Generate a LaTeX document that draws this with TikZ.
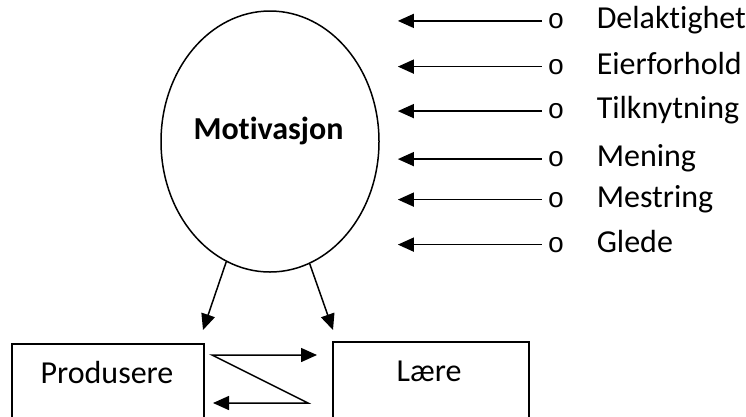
\documentclass[tikz,border=0pt]{standalone}
\usepackage{fontspec}
\setmainfont{Carlito}[Ligatures=NoCommon]
\newfontfamily\bulletfont{Liberation Mono}
\usetikzlibrary{shapes.geometric,arrows.meta}

\begin{document}
\begin{tikzpicture}[x=1pt,y=-1pt,line width=1.5pt,
  >={Triangle[length=16pt,width=14pt]},
  txt/.style={font=\fontsize{32}{38}\selectfont,inner sep=0pt},
  bul/.style={font=\bulletfont\fontsize{28}{30}\selectfont,inner sep=0pt},
  arr/.style={->},
  box/.style={draw,rectangle,inner sep=0pt}]
\useasboundingbox (0,0) rectangle (746,416);
\clip (0,0) rectangle (746,416);

% central ellipse and its label
\node[draw,ellipse,minimum width=218pt,minimum height=261pt,inner sep=0pt] (m) at (270,141.5) {};
\node[txt,font=\bfseries\fontsize{32}{38}\selectfont,anchor=base] (mt) at (268.5,139) {Motivasjon};

% list of factors, each pointing left
\foreach \name/\t/\b in {del/Delaktighet/28.3,eie/Eierforhold/74,til/Tilknytning/118.5,men/Mening/166.5,mes/Mestring/207,gle/Glede/252}{
  \node[txt,anchor=base west] (t-\name) at (596,\b) {\t};
  \node[bul,anchor=base] (b-\name) at (556,\b) {o};
  \path (b-\name.west) ++(-149,0) coordinate (e-\name);
  \draw[arr] ([xshift=-5pt]b-\name.west) -- (e-\name);
}

% the two boxes
\node[box,minimum width=192pt,minimum height=100pt,anchor=north west] (pb) at (11,343) {};
\node[box,minimum width=196pt,minimum height=100pt,anchor=north west] (lb) at (332,341) {};
\node[txt,anchor=base] (pt) at (107,383) {Produsere};
\node[txt,anchor=base] (lt) at (429,381) {Lære};

% arrows from the ellipse down to the boxes
\coordinate (pd) at (203,330);
\coordinate (ld) at (333,330);
\draw[arr] (m.250) -- (pd);
\draw[arr] (m.288) -- (ld);

% zig-zag exchange between the boxes
\coordinate (z1) at (317,355);
\coordinate (z2) at (212,355);
\coordinate (z3) at (308,403);
\coordinate (z4) at (213,403);
\draw[<->] (z1) -- (z2) -- (z3) -- (z4);
\end{tikzpicture}
\end{document}
